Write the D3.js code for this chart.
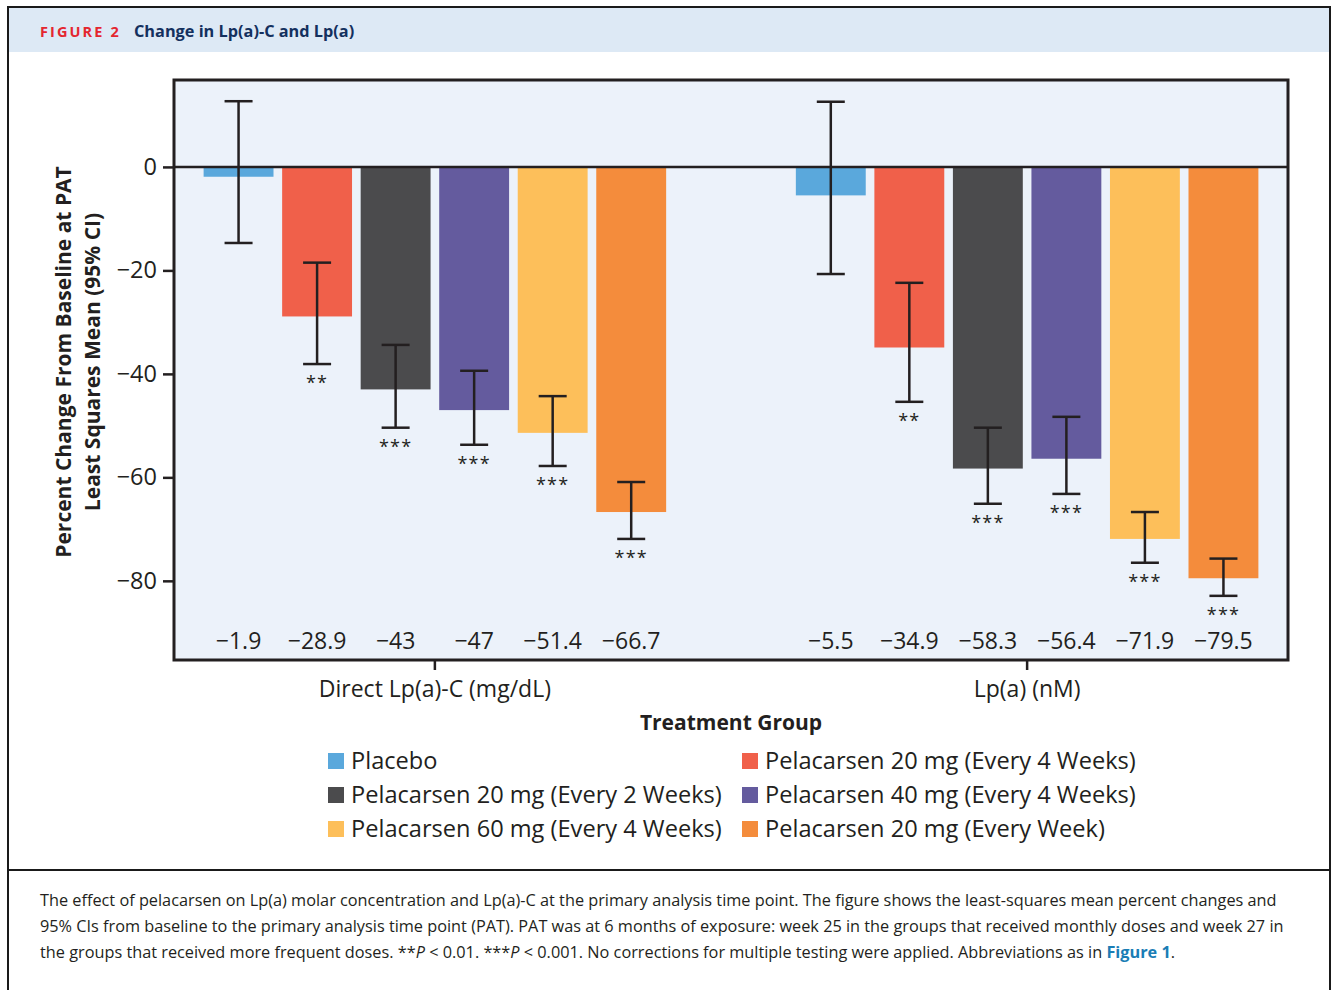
<!DOCTYPE html>
<html>
<head>
<meta charset="utf-8">
<script src="https://cdn.jsdelivr.net/npm/d3@7"></script>
<style>
  body { margin: 0; background: #fff; }
  svg { display: block; }
  text { font-family: "Open Sans", "Noto Sans", sans-serif; }
</style>
</head>
<body>
<div id="chart"></div>
<script>
// data
const groups = ['Direct Lp(a)-C (mg/dL)', 'Lp(a) (nM)'];
const series = [
  'Placebo',
  'Pelacarsen 20 mg (Every 4 Weeks)',
  'Pelacarsen 20 mg (Every 2 Weeks)',
  'Pelacarsen 40 mg (Every 4 Weeks)',
  'Pelacarsen 60 mg (Every 4 Weeks)',
  'Pelacarsen 20 mg (Every Week)'
];
const colors = ['#5aa8dc', '#f0604a', '#4b4b4d', '#645b9e', '#fdbf5a', '#f48c3c'];
const lpcMean = [-1.9, -28.9, -43, -47, -51.4, -66.7];
const lpcLow = [-14.7, -38.1, -50.4, -53.7, -57.8, -71.9];
const lpcHigh = [12.7, -18.5, -34.4, -39.4, -44.3, -60.9];
const lpaMean = [-5.5, -34.9, -58.3, -56.4, -71.9, -79.5];
const lpaLow = [-20.7, -45.4, -65.1, -63.2, -76.5, -82.9];
const lpaHigh = [12.6, -22.4, -50.4, -48.3, -66.7, -75.7];
const lpcStars = ['', '**', '***', '***', '***', '***'];
const lpaStars = ['', '**', '***', '***', '***', '***'];
const yTicks = [0, -20, -40, -60, -80];
// legend order (2 columns, 3 rows)
const legendOrder = [0, 1, 2, 3, 4, 5];

const W = 1336, H = 990;
const svg = d3.select('#chart').append('svg').attr('width', W).attr('height', H);

// outer figure frame + header
svg.append('rect').attr('x', 8).attr('y', 7).attr('width', 1322).attr('height', 1000)
  .attr('fill', '#fff').attr('stroke', '#1a1a1a').attr('stroke-width', 2);
svg.append('rect').attr('x', 9).attr('y', 8).attr('width', 1320).attr('height', 44).attr('fill', '#dde9f5');
svg.append('text').attr('x', 40).attr('y', 37)
  .attr('font-size', 14.5).attr('font-weight', 700).attr('fill', '#e4262f')
  .attr('letter-spacing', 2.1).text('FIGURE 2');
svg.append('text').attr('x', 134).attr('y', 37)
  .attr('font-size', 16.3).attr('font-weight', 700).attr('fill', '#14305e')
  .text('Change in Lp(a)-C and Lp(a)');
svg.append('line').attr('x1', 8).attr('x2', 1330).attr('y1', 870).attr('y2', 870)
  .attr('stroke', '#1a1a1a').attr('stroke-width', 2);

// plot area
const plot = { left: 174, top: 80, right: 1288, bottom: 660 };

const y = d3.scaleLinear().domain([-95.3, 16.8]).range([plot.bottom, plot.top]);
const x0 = d3.scaleBand().domain(groups).range([plot.left, plot.right])
  .paddingInner(0.219).paddingOuter(0.05);
const x1 = d3.scaleBand().domain(d3.range(series.length)).range([0, x0.bandwidth()])
  .paddingInner(0.11).paddingOuter(0);

svg.append('rect').attr('x', plot.left).attr('y', plot.top)
  .attr('width', plot.right - plot.left).attr('height', plot.bottom - plot.top)
  .attr('fill', '#ecf2fa');

const table = [
  { g: groups[0], mean: lpcMean, lo: lpcLow, hi: lpcHigh, stars: lpcStars },
  { g: groups[1], mean: lpaMean, lo: lpaLow, hi: lpaHigh, stars: lpaStars }
];

const fmt = v => String(v).replace('-', '\u2212');

table.forEach(t => {
  const g = svg.append('g').attr('transform', `translate(${x0(t.g)},0)`);
  const rows = t.mean.map((m, i) => ({ i, m, lo: t.lo[i], hi: t.hi[i], s: t.stars[i] }));

  g.selectAll('rect.bar').data(rows).join('rect')
    .attr('class', 'bar')
    .attr('x', d => x1(d.i))
    .attr('y', y(0))
    .attr('width', x1.bandwidth())
    .attr('height', d => y(d.m) - y(0))
    .attr('fill', d => colors[d.i]);

  const cap = 14;
  const eb = g.selectAll('g.err').data(rows).join('g').attr('class', 'err')
    .attr('transform', d => `translate(${x1(d.i) + x1.bandwidth() / 2},0)`);
  eb.append('line').attr('y1', d => y(d.hi)).attr('y2', d => y(d.lo))
    .attr('stroke', '#231f20').attr('stroke-width', 2.5);
  eb.append('line').attr('x1', -cap).attr('x2', cap).attr('y1', d => y(d.hi)).attr('y2', d => y(d.hi))
    .attr('stroke', '#231f20').attr('stroke-width', 2.5);
  eb.append('line').attr('x1', -cap).attr('x2', cap).attr('y1', d => y(d.lo)).attr('y2', d => y(d.lo))
    .attr('stroke', '#231f20').attr('stroke-width', 2.5);
  eb.append('text').attr('y', d => y(d.lo) + 25).attr('text-anchor', 'middle')
    .attr('font-size', 18).attr('fill', '#231f20').attr('letter-spacing', 1.2).text(d => d.s);

  g.selectAll('text.val').data(rows).join('text')
    .attr('class', 'val')
    .attr('x', d => x1(d.i) + x1.bandwidth() / 2)
    .attr('y', 649)
    .attr('text-anchor', 'middle')
    .attr('font-size', 23).attr('fill', '#231f20')
    .text(d => fmt(d.m));
});

// zero line
svg.append('line').attr('x1', plot.left).attr('x2', plot.right)
  .attr('y1', y(0)).attr('y2', y(0)).attr('stroke', '#231f20').attr('stroke-width', 2.5);

// frame
svg.append('rect').attr('x', plot.left).attr('y', plot.top)
  .attr('width', plot.right - plot.left).attr('height', plot.bottom - plot.top)
  .attr('fill', 'none').attr('stroke', '#231f20').attr('stroke-width', 3);

// y axis
const yAxis = svg.append('g').attr('transform', `translate(${plot.left},0)`)
  .call(d3.axisLeft(y).tickValues(yTicks).tickSize(11).tickPadding(6).tickFormat(fmt));
yAxis.select('.domain').remove();
yAxis.selectAll('line').attr('stroke', '#231f20').attr('stroke-width', 2.5);
yAxis.selectAll('text').attr('font-size', 23.5).attr('fill', '#231f20')
  .attr('font-family', '"Open Sans", "Noto Sans", sans-serif');

// x axis
const xAxis = svg.append('g').attr('transform', `translate(0,${plot.bottom})`)
  .call(d3.axisBottom(x0).tickSize(10).tickPadding(11));
xAxis.select('.domain').remove();
xAxis.selectAll('line').attr('stroke', '#231f20').attr('stroke-width', 2.5);
xAxis.selectAll('text').attr('font-size', 23).attr('fill', '#231f20')
  .attr('font-family', '"Open Sans", "Noto Sans", sans-serif');

svg.append('text').attr('x', 731).attr('y', 730).attr('text-anchor', 'middle')
  .attr('font-size', 21).attr('font-weight', 700).attr('fill', '#231f20').text('Treatment Group');

// y title
const yt = svg.append('text').attr('transform', 'translate(0,362) rotate(-90)')
  .attr('text-anchor', 'middle').attr('font-size', 21).attr('font-weight', 700).attr('fill', '#231f20');
yt.append('tspan').attr('x', 0).attr('y', 71).text('Percent Change From Baseline at PAT');
yt.append('tspan').attr('x', 0).attr('y', 100).text('Least Squares Mean (95% CI)');

// legend
const legendX = [328, 742];
const legendY = [761, 795, 829];
const lg = svg.selectAll('g.leg').data(legendOrder).join('g').attr('class', 'leg')
  .attr('transform', (d, k) => `translate(${legendX[k % 2]},${legendY[Math.floor(k / 2)]})`);
lg.append('rect').attr('x', 0).attr('y', -8).attr('width', 16).attr('height', 16)
  .attr('fill', d => colors[d]);
lg.append('text').attr('x', 23).attr('y', 8).attr('font-size', 23.6).attr('fill', '#231f20')
  .text(d => series[d]);

// caption
const cap = svg.append('g').attr('font-size', 16.3).attr('fill', '#231f20');
cap.append('text').attr('x', 40).attr('y', 906)
  .text('The effect of pelacarsen on Lp(a) molar concentration and Lp(a)-C at the primary analysis time point. The figure shows the least-squares mean percent changes and');
cap.append('text').attr('x', 40).attr('y', 932)
  .text('95% CIs from baseline to the primary analysis time point (PAT). PAT was at 6 months of exposure: week 25 in the groups that received monthly doses and week 27 in');
const l3 = cap.append('text').attr('x', 40).attr('y', 958);
l3.append('tspan').text('the groups that received more frequent doses. **');
l3.append('tspan').attr('font-style', 'italic').text('P');
l3.append('tspan').text(' < 0.01. ***');
l3.append('tspan').attr('font-style', 'italic').text('P');
l3.append('tspan').text(' < 0.001. No corrections for multiple testing were applied. Abbreviations as in ');
l3.append('tspan').attr('fill', '#1a7db5').attr('font-weight', 700).text('Figure 1');
l3.append('tspan').text('.');
</script>
</body>
</html>
